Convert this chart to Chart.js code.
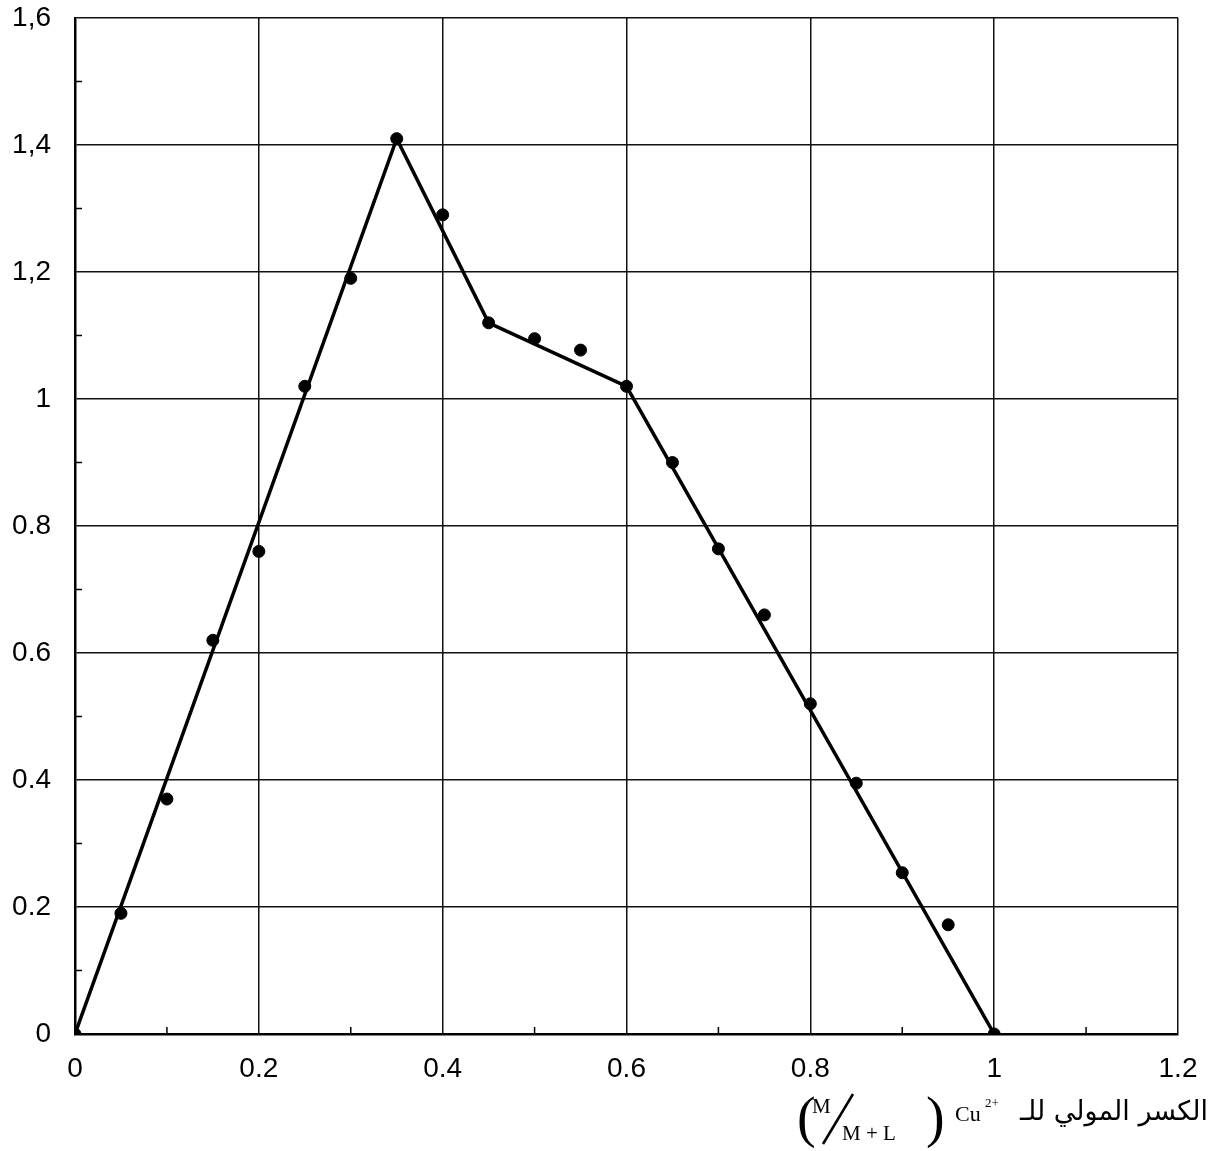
<!DOCTYPE html>
<html lang="ar">
<head>
<meta charset="UTF-8">
<title>Cu2+ mole fraction</title>
<script src="https://cdn.jsdelivr.net/npm/chart.js@4.4.1/dist/chart.umd.min.js"></script>
<style>
  html, body { margin: 0; padding: 0; background: #fff; }
  #wrap { width: 1213px; height: 1151px; }
</style>
</head>
<body>
<div id="wrap"><canvas id="jobChart"></canvas></div>
<script>
// measured points, one every 0.05 of mole fraction
const moleFrac = [0, 0.05, 0.1, 0.15, 0.2, 0.25, 0.3, 0.35, 0.4, 0.45, 0.5,
  0.55, 0.6, 0.65, 0.7, 0.75, 0.8, 0.85, 0.9, 0.95, 1];
const absorb = [0, 0.19, 0.37, 0.62, 0.76, 1.02, 1.19, 1.41, 1.29, 1.12, 1.095,
  1.077, 1.02, 0.90, 0.764, 0.66, 0.52, 0.395, 0.254, 0.172, 0];

// straight segments drawn through the points
const fitX = [0, 0.35, 0.45, 0.6, 1];
const fitY = [0, 1.41, 1.12, 1.02, 0];

const xTickLabels = ['0', '0.2', '0.4', '0.6', '0.8', '1', '1.2'];
const yTickLabels = ['0', '0.2', '0.4', '0.6', '0.8', '1', '1,2', '1,4', '1,6'];
const minorTicks = [0.1, 0.3, 0.5, 0.7, 0.9, 1.1, 1.3, 1.5];

const tickFont = { family: 'Liberation Sans', size: 28 };

// small inward ticks at the odd tenths, and the axis caption
const extras = {
  id: 'extras',
  afterDraw(chart) {
    const ctx = chart.ctx;
    const xs = chart.scales.x, ys = chart.scales.y;
    const a = chart.chartArea;
    ctx.save();
    ctx.strokeStyle = '#000';
    ctx.lineWidth = 1.5;
    minorTicks.forEach(v => {
      if (v < 1.2) {
        const px = xs.getPixelForValue(v);
        ctx.beginPath(); ctx.moveTo(px, a.bottom); ctx.lineTo(px, a.bottom - 7); ctx.stroke();
      }
      const py = ys.getPixelForValue(v);
      ctx.beginPath(); ctx.moveTo(a.left, py); ctx.lineTo(a.left + 7, py); ctx.stroke();
    });

    ctx.fillStyle = '#000';
    ctx.textBaseline = 'alphabetic';
    // arabic part, right to left
    ctx.font = '27px "DejaVu Sans"';
    ctx.textAlign = 'right';
    ctx.direction = 'rtl';
    ctx.fillText('الكسر المولي للـ', 1208, 1120);
    ctx.direction = 'ltr';
    // Cu2+
    ctx.textAlign = 'left';
    ctx.font = '22px "Liberation Serif"';
    ctx.fillText('Cu', 955, 1121);
    ctx.font = '13px "Liberation Serif"';
    ctx.fillText('2+', 985, 1107);
    // (M / M + L)
    ctx.font = '56px "Liberation Serif"';
    ctx.fillText('(', 797, 1136);
    ctx.fillText(')', 926, 1136);
    ctx.font = '21px "Liberation Serif"';
    ctx.fillText('M', 812, 1113);
    ctx.fillText('M + L', 842, 1140);
    ctx.lineWidth = 2.5;
    ctx.beginPath(); ctx.moveTo(823, 1144); ctx.lineTo(853, 1094); ctx.stroke();
    ctx.restore();
  }
};

new Chart('jobChart', {
  type: 'scatter',
  data: {
    datasets: [{
      type: 'line',
      data: fitX.map((x, i) => ({ x: x, y: fitY[i] })),
      borderColor: '#000',
      borderWidth: 3.5,
      pointRadius: 0,
      tension: 0,
      fill: false
    }, {
      data: moleFrac.map((x, i) => ({ x: x, y: absorb[i] })),
      backgroundColor: '#000',
      borderColor: '#000',
      pointRadius: 6,
      pointHoverRadius: 6
    }]
  },
  options: {
    responsive: true,
    maintainAspectRatio: false,
    animation: false,
    layout: { padding: { top: 18, right: 35, left: 0, bottom: 0 } },
    plugins: { legend: { display: false }, tooltip: { enabled: false } },
    scales: {
      x: {
        type: 'linear',
        min: 0, max: 1.2,
        afterFit(s) { s.height = 117; s.paddingRight = 0; s.paddingLeft = 0; },
        border: { color: '#000', width: 2.5 },
        grid: { color: '#111', lineWidth: 1.5, drawTicks: false },
        ticks: {
          stepSize: 0.2,
          padding: 18,
          color: '#000',
          font: tickFont,
          maxRotation: 0,
          callback: (v, i) => xTickLabels[i]
        }
      },
      y: {
        type: 'linear',
        min: 0, max: 1.6,
        afterFit(s) { s.width = 75; s.paddingTop = 0; s.paddingBottom = 0; },
        border: { color: '#000', width: 2.5 },
        grid: { color: '#111', lineWidth: 1.5, drawTicks: false },
        ticks: {
          stepSize: 0.2,
          padding: 24,
          color: '#000',
          font: tickFont,
          callback: (v, i) => yTickLabels[i]
        }
      }
    }
  },
  plugins: [extras]
});
</script>
</body>
</html>
